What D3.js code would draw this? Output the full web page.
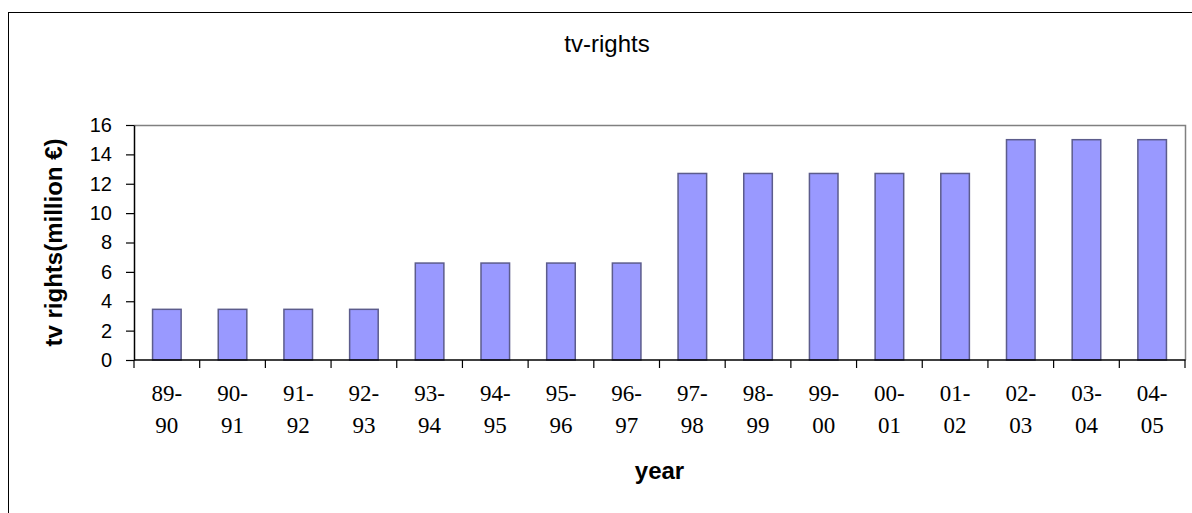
<!DOCTYPE html>
<html>
<head>
<meta charset="utf-8">
<script src="https://cdn.jsdelivr.net/npm/d3@7"></script>
<style>
  html, body { margin: 0; padding: 0; background: #fff; }
  svg { display: block; }
</style>
</head>
<body>
<svg id="chart" width="1192" height="513"></svg>
<script>
// Seasons shown on the category axis (two-line labels)
const seasons = ["89-90","90-91","91-92","92-93","93-94","94-95","95-96","96-97",
                 "97-98","98-99","99-00","00-01","01-02","02-03","03-04","04-05"];
// TV rights income per season, million €
const tvRights = [3.45, 3.45, 3.45, 3.45, 6.6, 6.6, 6.6, 6.6,
                  12.7, 12.7, 12.7, 12.7, 12.7, 15, 15, 15];
const yTicks = [0, 2, 4, 6, 8, 10, 12, 14, 16];

const svg = d3.select("#chart");
const W = 1192, H = 513;
const plot = { left: 134, right: 1185, top: 125, bottom: 360 };

// outer chart frame
svg.append("rect")
  .attr("x", 8.5).attr("y", 12.5)
  .attr("width", 1300).attr("height", 600)
  .attr("fill", "none").attr("stroke", "#000").attr("stroke-width", 1);

const x = d3.scaleBand()
  .domain(seasons)
  .range([plot.left, plot.right])
  .paddingInner(0.565)
  .paddingOuter(0.2825);

const xBand = d3.scaleBand().domain(seasons).range([plot.left, plot.right]);

const y = d3.scaleLinear().domain([0, 16]).range([plot.bottom, plot.top]);

// plot area border (top and right)
svg.append("path")
  .attr("d", `M${plot.left},${plot.top + 0.5}H${plot.right + 0.5}V${plot.bottom}`)
  .attr("fill", "none").attr("stroke", "#808080").attr("stroke-width", 1.5);

// bars
svg.append("g").selectAll("rect")
  .data(seasons)
  .join("rect")
  .attr("x", d => x(d))
  .attr("y", (d, i) => y(tvRights[i]))
  .attr("width", x.bandwidth())
  .attr("height", (d, i) => y(0) - y(tvRights[i]))
  .attr("fill", "#9999ff")
  .attr("stroke", "#5c5c8c")
  .attr("stroke-width", 1.5);

// y axis
const yAxis = svg.append("g")
  .attr("transform", `translate(${plot.left},0)`)
  .call(d3.axisLeft(y).tickValues(yTicks).tickSize(8).tickPadding(14).tickSizeOuter(0));
yAxis.select(".domain").attr("stroke", "#000").attr("stroke-width", 1.5);
yAxis.selectAll(".tick line").attr("stroke", "#000").attr("stroke-width", 1.2);
yAxis.selectAll(".tick text")
  .attr("font-family", "Liberation Sans, Arial, sans-serif")
  .attr("font-size", 20)
  .attr("fill", "#000");

// x axis: baseline plus tick marks on category boundaries
const xg = svg.append("g");
xg.append("line")
  .attr("x1", plot.left).attr("x2", plot.right + 0.5)
  .attr("y1", plot.bottom).attr("y2", plot.bottom)
  .attr("stroke", "#000").attr("stroke-width", 1.5);
const boundaries = seasons.map(s => xBand(s)).concat([plot.right]);
xg.selectAll("line.tk")
  .data(boundaries)
  .join("line")
  .attr("class", "tk")
  .attr("x1", d => d).attr("x2", d => d)
  .attr("y1", plot.bottom).attr("y2", plot.bottom + 8)
  .attr("stroke", "#000").attr("stroke-width", 1.2);

// category labels, split over two lines
const lbl = xg.selectAll("text.cat")
  .data(seasons)
  .join("text")
  .attr("class", "cat")
  .attr("text-anchor", "middle")
  .attr("font-family", "Liberation Serif, 'Times New Roman', serif")
  .attr("font-size", 23)
  .attr("fill", "#000");
lbl.append("tspan")
  .attr("x", d => xBand(d) + xBand.bandwidth() / 2)
  .attr("y", 401)
  .text(d => d.split("-")[0] + "-");
lbl.append("tspan")
  .attr("x", d => xBand(d) + xBand.bandwidth() / 2)
  .attr("y", 433)
  .text(d => d.split("-")[1]);

// chart title
svg.append("text")
  .attr("x", 607).attr("y", 52)
  .attr("text-anchor", "middle")
  .attr("font-family", "Liberation Sans, Arial, sans-serif")
  .attr("font-size", 24)
  .attr("fill", "#000")
  .text("tv-rights");

// axis titles
svg.append("text")
  .attr("x", (plot.left + plot.right) / 2).attr("y", 479)
  .attr("text-anchor", "middle")
  .attr("font-family", "Liberation Sans, Arial, sans-serif")
  .attr("font-size", 24)
  .attr("font-weight", "bold")
  .attr("fill", "#000")
  .text("year");

svg.append("text")
  .attr("transform", `translate(62,${(plot.top + plot.bottom) / 2}) rotate(-90)`)
  .attr("text-anchor", "middle")
  .attr("font-family", "Liberation Sans, Arial, sans-serif")
  .attr("font-size", 24)
  .attr("font-weight", "bold")
  .attr("fill", "#000")
  .text("tv rights(million €)");
</script>
</body>
</html>
